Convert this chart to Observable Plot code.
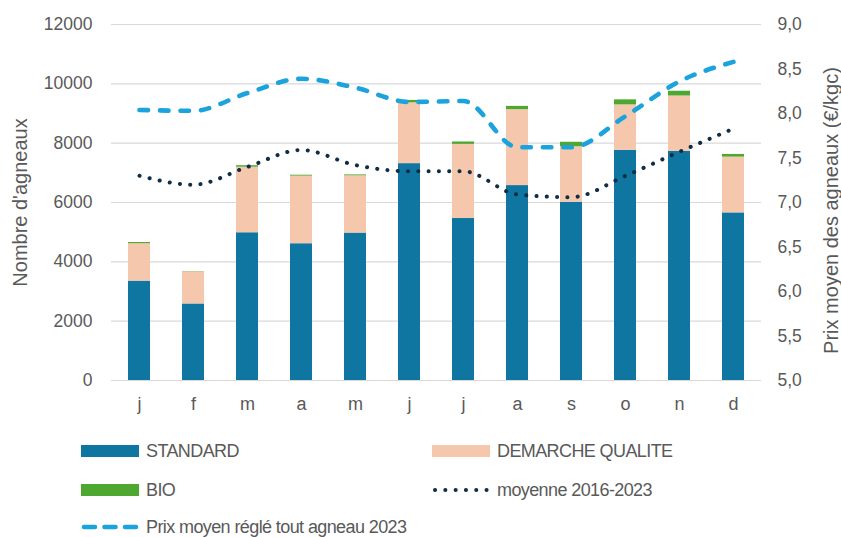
<!DOCTYPE html>
<html>
<head>
<meta charset="utf-8">
<script src="https://cdn.jsdelivr.net/npm/d3@7"></script>
<script src="https://cdn.jsdelivr.net/npm/@observablehq/plot@0.6"></script>
<style>
  body { margin: 0; background: #fff; }
  #wrap { width: 841px; font-family: "Liberation Sans", Arial, sans-serif; color: #595959; }
  #legend { position: relative; width: 841px; height: 107px; font-size: 18px; letter-spacing: -0.6px; }
  .item { position: absolute; height: 24px; display: flex; align-items: center; white-space: nowrap; }
  .sw { display: inline-block; height: 12px; margin-right: 7px; }
</style>
</head>
<body>
<div id="wrap">
  <div id="chart"></div>
  <div id="legend"></div>
</div>
<script>
const months = ["j","f","m","a","m","j","j","a","s","o","n","d"];
const seriesNames = ["STANDARD", "DEMARCHE QUALITE", "BIO"];
const standard = [3350, 2580, 4980, 4610, 4970, 7310, 5460, 6570, 6010, 7760, 7720, 5650];
const qualite  = [1260, 1080, 2210, 2280, 1930, 2050, 2500, 2560, 1870, 1530, 1870, 1880];
const bio      = [40, 10, 50, 30, 30, 80, 80, 110, 150, 170, 160, 90];
const prix2023 = [8.04, 8.03, 8.23, 8.39, 8.29, 8.13, 8.14, 7.62, 7.62, 7.97, 8.36, 8.58];
const moyenne  = [7.30, 7.20, 7.40, 7.59, 7.42, 7.35, 7.35, 7.09, 7.06, 7.30, 7.57, 7.83];
const yTicksLeft = [0, 2000, 4000, 6000, 8000, 10000, 12000];
const yTicksRight = [5, 5.5, 6, 6.5, 7, 7.5, 8, 8.5, 9];
const lineNames = ["moyenne 2016-2023", "Prix moyen réglé tout agneau 2023"];

const colors = ["#0e76a0", "#f5c8ae", "#4ea72e"];
const cMoy = "#0f2d45", cPrix = "#1aa3dc";
const toLeft = v => (v - 5) * 3000;

const barData = months.flatMap((m, i) => [
  {i, s: seriesNames[0], v: standard[i]},
  {i, s: seriesNames[1], v: qualite[i]},
  {i, s: seriesNames[2], v: bio[i]}
]);

const chart = Plot.plot({
  width: 841, height: 430,
  marginTop: 24, marginBottom: 50, marginLeft: 111, marginRight: 80,
  style: {fontFamily: '"Liberation Sans", Arial, sans-serif', color: "#595959", background: "white"},
  x: {type: "band", domain: d3.range(12), paddingInner: 0.6, paddingOuter: 0.3, align: 0.5},
  y: {domain: [0, 12000]},
  color: {domain: seriesNames, range: colors},
  marks: [
    Plot.gridY(yTicksLeft, {stroke: "#d9d9d9", strokeOpacity: 1, strokeWidth: 1.2}),
    Plot.barY(barData, {x: "i", y: "v", fill: "s"}),
    Plot.line(moyenne, {x: (d, i) => i, y: d => toLeft(d), stroke: cMoy, strokeWidth: 4, strokeDasharray: "0.1 10.2", strokeLinecap: "round", curve: "monotone-x"}),
    Plot.line(prix2023, {x: (d, i) => i, y: d => toLeft(d), stroke: cPrix, strokeWidth: 4.6, strokeDasharray: "8.5 12", strokeLinecap: "round", curve: "monotone-x"}),
    Plot.axisX({tickSize: 0, tickPadding: 17, tickFormat: i => months[i], fontSize: 18, label: null}),
    Plot.axisY(yTicksLeft, {anchor: "left", tickSize: 0, tickPadding: 19, fontSize: 17.5, label: null,
      tickFormat: d => String(d)}),
    Plot.axisY(yTicksRight.map(toLeft), {anchor: "right", tickSize: 0, tickPadding: 16, fontSize: 17.5, label: null,
      tickFormat: d => (5 + d / 3000).toFixed(1).replace(".", ",")}),
    Plot.text(["Nombre d'agneaux"], {frameAnchor: "left", textAnchor: "middle", dx: -91, rotate: -90, fontSize: 20}),
    Plot.text(["Prix moyen des agneaux (€/kgc)"], {frameAnchor: "right", textAnchor: "middle", dx: 70, dy: 8, rotate: -90, fontSize: 20})
  ]
});
document.getElementById("chart").appendChild(chart);

// Legend
const legend = document.getElementById("legend");
function addItem(left, centerY, swatchHtml, label) {
  const d = document.createElement("div");
  d.className = "item";
  d.style.left = left + "px";
  d.style.top = (centerY - 430 - 12) + "px";
  d.innerHTML = swatchHtml + "<span>" + label + "</span>";
  legend.appendChild(d);
}
const rect = c => `<span class="sw" style="width:58px;background:${c}"></span>`;
addItem(81, 451, rect(colors[0]), seriesNames[0]);
addItem(432, 451, rect(colors[1]), seriesNames[1]);
addItem(81, 490, rect(colors[2]), seriesNames[2]);
addItem(432, 490,
  `<svg width="58" height="12" style="margin-right:7px"><line x1="3" y1="6" x2="56" y2="6" stroke="${cMoy}" stroke-width="4" stroke-dasharray="0.1 10.2" stroke-linecap="round"/></svg>`,
  lineNames[0]);
addItem(81, 527,
  `<svg width="58" height="12" style="margin-right:7px"><line x1="3" y1="6" x2="56" y2="6" stroke="${cPrix}" stroke-width="4.6" stroke-dasharray="11 9.5" stroke-linecap="round"/></svg>`,
  lineNames[1]);
</script>
</body>
</html>
